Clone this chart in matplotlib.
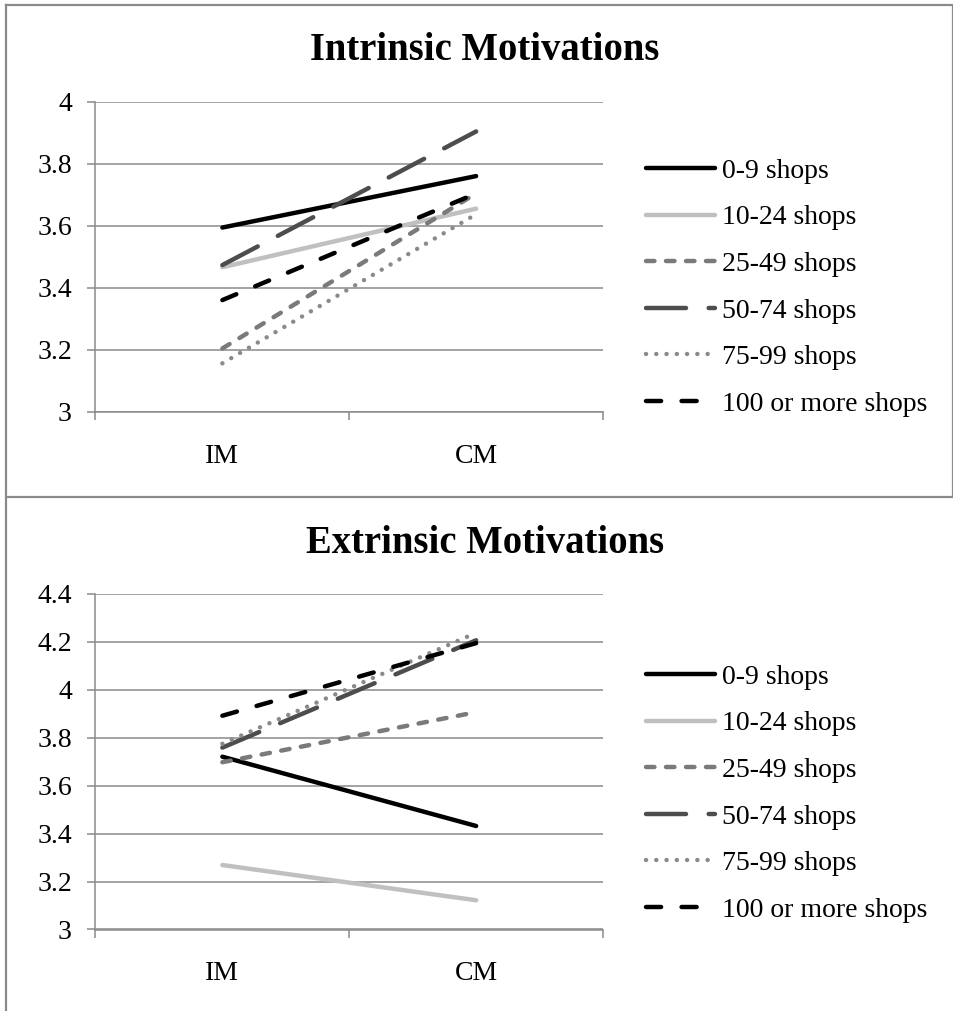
import numpy as np
import matplotlib
matplotlib.use('Agg')
from matplotlib import pyplot as plt
from matplotlib.lines import Line2D

plt.rcParams['font.family'] = ['Liberation Serif', 'DejaVu Serif']
plt.rcParams['font.size'] = 20

categories = ['IM', 'CM']
groups = ['0-9 shops', '10-24 shops', '25-49 shops', '50-74 shops',
          '75-99 shops', '100 or more shops']

intrinsic = [[3.595, 3.761],
             [3.467, 3.656],
             [3.205, 3.705],
             [3.474, 3.905],
             [3.157, 3.638],
             [3.361, 3.705]]

extrinsic = [[3.721, 3.432],
             [3.269, 3.122],
             [3.698, 3.907],
             [3.759, 4.207],
             [3.775, 4.238],
             [3.892, 4.195]]

# colour, linestyle per group
styles = [('black', '-'),
          ('#c0c0c0', '-'),
          ('#7a7a7a', (0, (1.9, 2.6))),
          ('#4d4d4d', (0, (9.0, 5.1))),
          ('#8a8a8a', (0, (0.01, 2.3))),
          ('black', (0, (3.4, 4.6)))]

W, H = 954, 1011
fig = plt.figure(figsize=(W / 100, H / 100), dpi=100)
gc = '#8a8a8a'


def draw(rect, data, ylim, yticks, title, title_base, leg_y):
    ax = fig.add_axes(rect)
    x = np.arange(len(categories)) + 0.5
    for i, g in enumerate(groups):
        c, ls = styles[i]
        ax.plot(x, data[i], color=c, linestyle=ls, lw=3.2, label=g,
                dash_capstyle='round', solid_capstyle='round')
    ax.set_xlim(0, 2)
    ax.set_ylim(*ylim)
    ax.set_yticks(yticks)
    ax.set_yticklabels([('%g' % v) for v in yticks])
    ax.set_xticks([0, 1, 2])
    ax.set_xticklabels([])
    ax.set_xticks(x, minor=True)
    ax.set_xticklabels(categories, minor=True)
    ax.tick_params(axis='x', which='minor', length=0, pad=23)
    ax.tick_params(axis='x', which='major', length=6, width=1.1, color=gc)
    ax.tick_params(axis='y', length=6, width=1.1, color=gc, pad=11)
    ax.grid(axis='y', color=gc, lw=1.1)
    ax.set_axisbelow(True)
    for s in ['top', 'right']:
        ax.spines[s].set_visible(False)
    for s in ['left', 'bottom']:
        ax.spines[s].set_color(gc)
        ax.spines[s].set_linewidth(1.1)
    fig.text(485 / W, 1 - title_base / H, title, ha='center', va='baseline',
             fontsize=27.8, fontweight='bold')
    fig.legend(*ax.get_legend_handles_labels(), loc='center left',
               bbox_to_anchor=(646 / W, 1 - leg_y / H), frameon=False,
               borderpad=0, borderaxespad=0, handlelength=2.5,
               handletextpad=0.25, labelspacing=0.76, fontsize=20)
    return ax


draw([95.5 / W, 1 - 412 / H, 507.5 / W, 310 / H], intrinsic, (3, 4),
     [3, 3.2, 3.4, 3.6, 3.8, 4], 'Intrinsic Motivations', 60, 287.5)
draw([95.5 / W, 1 - 929.5 / H, 507.5 / W, 335.5 / H], extrinsic, (3, 4.4),
     [3, 3.2, 3.4, 3.6, 3.8, 4, 4.2, 4.4], 'Extrinsic Motivations', 553, 793.5)

# chart frames
fig.add_artist(Line2D([6.5 / W, 953 / W, 953 / W, 6.5 / W, 6.5 / W],
                      [1 - 5 / H, 1 - 5 / H, 1 - 497 / H, 1 - 497 / H, 1 - 5 / H],
                      color=gc, lw=1.6))
fig.add_artist(Line2D([6.5 / W, 6.5 / W], [1 - 497 / H, 0], color=gc, lw=1.6))

plt.savefig('out.png', dpi=100)
